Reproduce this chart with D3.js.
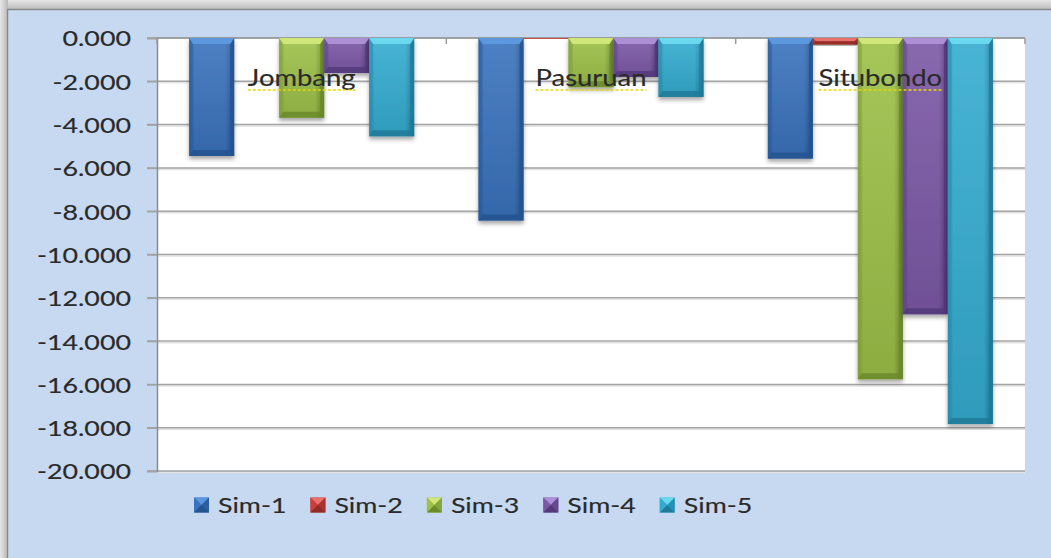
<!DOCTYPE html>
<html>
<head>
<meta charset="utf-8">
<script src="https://cdn.jsdelivr.net/npm/d3@7"></script>
<style>
  html, body { margin: 0; padding: 0; background: #dcdcdc; }
  svg { display: block; }
  text { stroke: #2a2a2a; stroke-width: 0.15px; }
</style>
</head>
<body>
<svg id="chart" width="1051" height="558"></svg>
<script>
// ---------- DATA ----------
const categories = ["Jombang", "Pasuruan", "Situbondo"];
const seriesNames = ["Sim-1", "Sim-2", "Sim-3", "Sim-4", "Sim-5"];
const sim1 = [-5.45, -8.43, -5.57];
const sim2 = [-0.01, -0.04, -0.30];
const sim3 = [-3.68, -2.27, -15.76];
const sim4 = [-1.62, -1.80, -12.76];
const sim5 = [-4.54, -2.72, -17.83];
const yTicks = [0, -2, -4, -6, -8, -10, -12, -14, -16, -18, -20];

// ---------- STYLE ----------
const seriesValues = [sim1, sim2, sim3, sim4, sim5];
const palette = {
  "Sim-1": { base: "#3a72bd", light: "#5b98de", dark: "#24538e", edge: "#2c5e9e" },
  "Sim-2": { base: "#c9403b", light: "#e8716c", dark: "#8f2b28", edge: "#a8332f" },
  "Sim-3": { base: "#9cc048", light: "#cfe77a", dark: "#6b8a2c", edge: "#84a63a" },
  "Sim-4": { base: "#7b58a6", light: "#ad8fd6", dark: "#53387a", edge: "#654890" },
  "Sim-5": { base: "#34acd0", light: "#6ad9f0", dark: "#1e7a98", edge: "#2892b4" }
};
const SX = 1.22;           // horizontal text stretch
const FONT = "Lato, 'Open Sans', sans-serif";

const svg = d3.select("#chart");
const W = 1051, H = 558;
const plot = { left: 157, right: 1025, top: 38, bottom: 471 };

const defs = svg.append("defs");
const gTop = defs.append("linearGradient").attr("id", "gTop").attr("x1", 0).attr("y1", 0).attr("x2", 0).attr("y2", 1);
gTop.append("stop").attr("offset", "0%").attr("stop-color", "#e6e6e6");
gTop.append("stop").attr("offset", "100%").attr("stop-color", "#b9b9b9");
const gLeft = defs.append("linearGradient").attr("id", "gLeft").attr("x1", 0).attr("y1", 0).attr("x2", 1).attr("y2", 0);
gLeft.append("stop").attr("offset", "0%").attr("stop-color", "#e6e6e6");
gLeft.append("stop").attr("offset", "100%").attr("stop-color", "#b9b9b9");

const shadow = defs.append("filter").attr("id", "barShadow")
  .attr("x", "-20%").attr("y", "-5%").attr("width", "140%").attr("height", "120%");
shadow.append("feDropShadow").attr("dx", 0).attr("dy", 3).attr("stdDeviation", 2.2)
  .attr("flood-color", "#000").attr("flood-opacity", 0.35);

seriesNames.forEach((s, i) => {
  const p = palette[s];
  const g = defs.append("linearGradient").attr("id", "bar" + i)
    .attr("x1", 0).attr("y1", 0).attr("x2", 1).attr("y2", 0);
  g.append("stop").attr("offset", "0%").attr("stop-color", p.edge);
  g.append("stop").attr("offset", "12%").attr("stop-color", p.base);
  g.append("stop").attr("offset", "80%").attr("stop-color", p.base);
  g.append("stop").attr("offset", "100%").attr("stop-color", p.dark);
  const v = defs.append("linearGradient").attr("id", "barV" + i)
    .attr("x1", 0).attr("y1", 0).attr("x2", 0).attr("y2", 1);
  v.append("stop").attr("offset", "0%").attr("stop-color", "#fff").attr("stop-opacity", 0.10);
  v.append("stop").attr("offset", "100%").attr("stop-color", "#000").attr("stop-opacity", 0.10);
});

// ---------- FRAME ----------
svg.append("rect").attr("x", 0).attr("y", 0).attr("width", W).attr("height", 10).attr("fill", "url(#gTop)");
svg.append("rect").attr("x", 0).attr("y", 0).attr("width", 8).attr("height", H).attr("fill", "url(#gLeft)");
svg.append("rect").attr("x", 7.5).attr("y", 9.5).attr("width", W + 20).attr("height", H + 20)
  .attr("fill", "#c6d9f0").attr("stroke", "#8a8a8a").attr("stroke-width", 1.5);

// ---------- SCALES ----------
const x0 = d3.scaleBand().domain(categories).range([plot.left, plot.right]).paddingInner(0).paddingOuter(0);
const x1 = d3.scaleBand().domain(seriesNames).range([0, x0.bandwidth()]).paddingInner(0).paddingOuter(0.715);
const y = d3.scaleLinear().domain([0, -20]).range([plot.top, plot.bottom]);
const fmt = d3.formatLocale({ decimal: ".", thousands: ",", grouping: [3], currency: ["", ""], minus: "-" }).format(".3f");

svg.append("rect").attr("x", plot.left).attr("y", y(0))
  .attr("width", plot.right - plot.left).attr("height", y(-20) - y(0)).attr("fill", "#ffffff");

const grid = svg.append("g");
grid.selectAll("line.sh").data(yTicks.filter(t => t !== 0)).join("line")
  .attr("x1", plot.left).attr("x2", plot.right)
  .attr("y1", d => y(d) + 1.6).attr("y2", d => y(d) + 1.6)
  .attr("stroke", "#e2e2e2").attr("stroke-width", 1.4);
grid.selectAll("line.gl").data(yTicks).join("line")
  .attr("x1", plot.left - 10).attr("x2", plot.right)
  .attr("y1", d => y(d)).attr("y2", d => y(d))
  .attr("stroke", "#a3a3a3").attr("stroke-width", 1.5);

const yAxis = svg.append("g").attr("transform", `translate(${plot.left},0)`)
  .call(d3.axisLeft(y).tickValues(yTicks).tickFormat(fmt).tickSize(10).tickPadding(0));
yAxis.select(".domain").attr("stroke", "#8c8c8c").attr("stroke-width", 1.5);
yAxis.selectAll(".tick line").attr("stroke", "#a3a3a3").attr("stroke-width", 1.5);
yAxis.selectAll(".tick text")
  .attr("x", -26 / SX).attr("dy", "0.36em")
  .attr("transform", `scale(${SX},1)`)
  .style("font-family", FONT).style("font-size", "22px").attr("fill", "#2a2a2a");

svg.append("line").attr("x1", plot.left).attr("x2", plot.right).attr("y1", y(0)).attr("y2", y(0))
  .attr("stroke", "#9a9a9a").attr("stroke-width", 1.5);
const bounds = categories.map(c => x0(c)).concat([x0(categories[categories.length - 1]) + x0.bandwidth()]);
svg.append("g").selectAll("line").data(bounds).join("line")
  .attr("x1", d => d).attr("x2", d => d).attr("y1", y(0)).attr("y2", y(0) + 6)
  .attr("stroke", "#9a9a9a").attr("stroke-width", 1.5);

// ---------- BARS ----------
const rows = [];
categories.forEach((c, ci) => {
  seriesNames.forEach((s, si) => rows.push({ cat: c, s, si, v: seriesValues[si][ci] }));
});
const barsG = svg.append("g");
rows.forEach(d => {
  const xl = x0(d.cat) + x1(d.s);
  const w = x1.bandwidth();
  const yt = y(0), yb = y(d.v);
  const h = yb - yt;
  if (h < 0.3) return;
  const p = palette[d.s];
  const g = barsG.append("g").attr("filter", "url(#barShadow)");
  g.append("rect").attr("x", xl).attr("y", yt).attr("width", w).attr("height", h).attr("fill", "url(#bar" + d.si + ")");
  g.append("rect").attr("x", xl).attr("y", yt).attr("width", w).attr("height", h).attr("fill", "url(#barV" + d.si + ")");
  const b = Math.min(6, h / 2);
  const bs = Math.min(4, h / 2);
  g.append("polygon").attr("points", [[xl, yt], [xl + bs, yt + b], [xl + bs, yb - b], [xl, yb]].join(" "))
    .attr("fill", p.edge).attr("opacity", 0.55);
  g.append("polygon").attr("points", [[xl + w, yt], [xl + w - bs, yt + b], [xl + w - bs, yb - b], [xl + w, yb]].join(" "))
    .attr("fill", p.dark).attr("opacity", 0.8);
  g.append("polygon").attr("points", [[xl, yt], [xl + w, yt], [xl + w - bs, yt + b], [xl + bs, yt + b]].join(" "))
    .attr("fill", p.light);
  g.append("polygon").attr("points", [[xl, yb], [xl + w, yb], [xl + w - bs, yb - b], [xl + bs, yb - b]].join(" "))
    .attr("fill", p.dark).attr("opacity", 0.85);
});

// ---------- CATEGORY LABELS ----------
const labG = svg.append("g");
categories.forEach(c => {
  const cx = x0(c) + x0.bandwidth() / 2;
  const t = labG.append("text")
    .attr("transform", `translate(${cx},${y(0) + 48}) scale(${SX},1)`)
    .attr("text-anchor", "middle")
    .style("font-family", FONT).style("font-size", "22.5px").attr("fill", "#2a2a2a")
    .text(c);
  const tw = t.node().getComputedTextLength() * SX;
  labG.append("line")
    .attr("x1", cx - tw / 2).attr("x2", cx + tw / 2)
    .attr("y1", y(0) + 52).attr("y2", y(0) + 52)
    .attr("stroke", "#e6d800").attr("stroke-width", 1.5).attr("stroke-dasharray", "3,2");
});

// ---------- LEGEND ----------
const legend = svg.append("g");
let lx = 194;
const ly = 505, ms = 15;
seriesNames.forEach((s, i) => {
  const p = palette[s];
  const g = legend.append("g");
  const x = lx, yy = ly - ms / 2, c = [x + ms / 2, yy + ms / 2];
  g.append("rect").attr("x", x).attr("y", yy).attr("width", ms).attr("height", ms).attr("fill", p.base);
  g.append("polygon").attr("points", [[x, yy], [x + ms, yy], c].join(" ")).attr("fill", p.light);
  g.append("polygon").attr("points", [[x, yy], [x, yy + ms], c].join(" ")).attr("fill", p.base);
  g.append("polygon").attr("points", [[x + ms, yy], [x + ms, yy + ms], c].join(" ")).attr("fill", p.edge);
  g.append("polygon").attr("points", [[x, yy + ms], [x + ms, yy + ms], c].join(" ")).attr("fill", p.dark);
  const t = g.append("text")
    .attr("transform", `translate(${x + ms + 9},${ly}) scale(${SX},1)`)
    .attr("dy", "0.36em")
    .style("font-family", FONT).style("font-size", "22px").attr("fill", "#2a2a2a")
    .text(s);
  const tw = t.node().getComputedTextLength() * SX;
  lx = x + ms + 9 + tw + 24;
});
</script>
</body>
</html>
